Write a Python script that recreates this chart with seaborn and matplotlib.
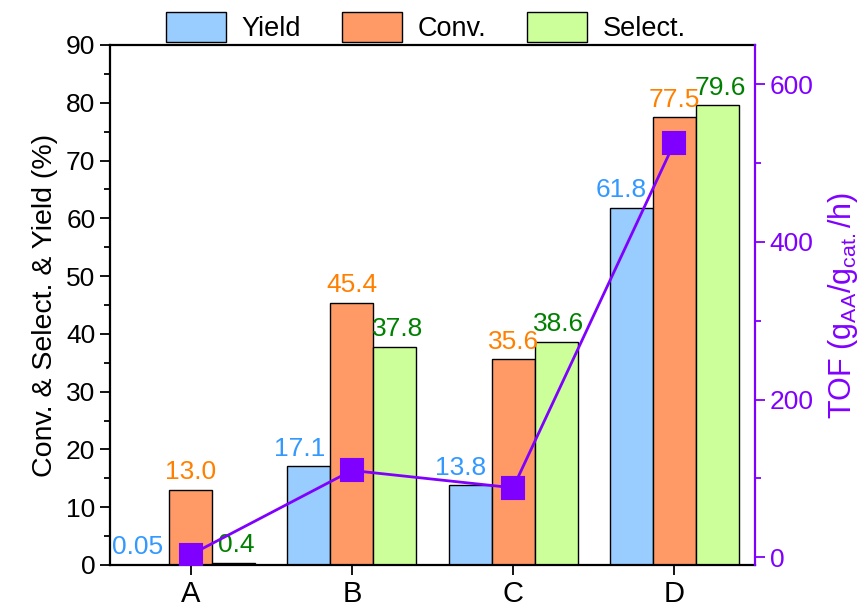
import numpy as np
import pandas as pd
import matplotlib
matplotlib.use("Agg")
import matplotlib.pyplot as plt
from matplotlib.ticker import MultipleLocator
import seaborn as sns

# Catalyst samples and measured performance
categories = ["A", "B", "C", "D"]
series_names = ["Yield", "Conv.", "Select."]
yield_vals = [0.05, 17.1, 13.8, 61.8]
conv_vals = [13.0, 45.4, 35.6, 77.5]
select_vals = [0.4, 37.8, 38.6, 79.6]
yield_labels = ["0.05", "17.1", "13.8", "61.8"]
conv_labels = ["13.0", "45.4", "35.6", "77.5"]
select_labels = ["0.4", "37.8", "38.6", "79.6"]
tof_vals = [3, 110, 88, 526]

bar_colors = ["#99CCFF", "#FF9966", "#CCFF99"]
text_colors = ["#3399FF", "#FF8000", "#008000"]
tof_color = "#8000FF"

sns.set_theme(style="ticks")
plt.rcParams["font.family"] = ["Liberation Sans", "DejaVu Sans"]
plt.rcParams["mathtext.fontset"] = "custom"
plt.rcParams["mathtext.rm"] = "Liberation Sans"
plt.rcParams["text.color"] = "black"
plt.rcParams["axes.labelcolor"] = "black"
plt.rcParams["xtick.color"] = "black"
plt.rcParams["ytick.color"] = "black"
plt.rcParams["axes.edgecolor"] = "black"

df = pd.DataFrame({
    "sample": categories * 3,
    "series": [s for s in series_names for _ in categories],
    "value": yield_vals + conv_vals + select_vals,
})

fig = plt.figure(figsize=(8.65, 6.1), dpi=100)
ax = fig.add_axes([110 / 865, 45 / 610, 645 / 865, 520 / 610])

sns.barplot(data=df, x="sample", y="value", hue="series", order=categories,
            hue_order=series_names, palette=bar_colors, edgecolor="black",
            linewidth=1.0, width=0.8, saturation=1, ax=ax, zorder=2)

ax.set_ylim(0, 90)
ax.set_xlim(-0.5, 3.5)
ax.yaxis.set_major_locator(MultipleLocator(10))
ax.yaxis.set_minor_locator(MultipleLocator(5))
ax.set_xlabel("")
ax.set_ylabel("Conv. & Select. & Yield (%)", fontsize=20.5, labelpad=6)
ax.tick_params(axis="y", which="major", length=7, width=1.3, labelsize=19, direction="out")
ax.tick_params(axis="y", which="minor", length=4, width=1.3, direction="out")
ax.tick_params(axis="x", length=7, width=1.3, labelsize=21, direction="out", pad=4)
for side in ["left", "bottom", "top"]:
    ax.spines[side].set_linewidth(1.6)
    ax.spines[side].set_color("black")
    ax.spines[side].set_visible(True)
ax.spines["right"].set_visible(False)

# value annotations above each bar
label_sets = [yield_labels, conv_labels, select_labels]
dx_pts = [-7, 0, 2]
for i, cont in enumerate(ax.containers):
    for j, patch in enumerate(cont.patches):
        xc = patch.get_x() + patch.get_width() / 2
        ax.annotate(label_sets[i][j], (xc, patch.get_height()),
                    xytext=(dx_pts[i], 4), textcoords="offset points",
                    ha="center", va="bottom", fontsize=19,
                    color=text_colors[i], zorder=5)

# legend sitting on top of the frame
handles, labels = ax.get_legend_handles_labels()
ax.legend(handles, labels, loc="lower center", bbox_to_anchor=(0.49, 1.0),
          ncol=3, frameon=False, fontsize=19.5, handlelength=2.2,
          handleheight=1.3, handletextpad=0.6, columnspacing=1.5,
          borderaxespad=0.05, borderpad=0.05)

# turnover frequency on the secondary axis
ax2 = ax.twinx()
sns.pointplot(x=categories, y=tof_vals, ax=ax2, color=tof_color,
              markers="s", markersize=16, linewidth=2.0, order=categories)
ax2.set_xlim(-0.5, 3.5)
ax2.set_ylim(-10, 650)
ax2.yaxis.set_major_locator(MultipleLocator(200))
ax2.yaxis.set_minor_locator(MultipleLocator(100))
ax2.set_ylabel(r"TOF (g$_\mathregular{AA}$/g$_\mathregular{cat.}$/h)",
               fontsize=22, color=tof_color, labelpad=9)
ax2.tick_params(axis="y", which="major", length=7, width=1.3, labelsize=19,
                colors=tof_color, direction="out")
ax2.tick_params(axis="y", which="minor", length=4, width=1.3,
                colors=tof_color, direction="out")
for side in ["left", "bottom", "top"]:
    ax2.spines[side].set_visible(False)
ax2.spines["right"].set_visible(True)
ax2.spines["right"].set_color(tof_color)
ax2.spines["right"].set_linewidth(1.6)

fig.savefig("out.png", dpi=100)
